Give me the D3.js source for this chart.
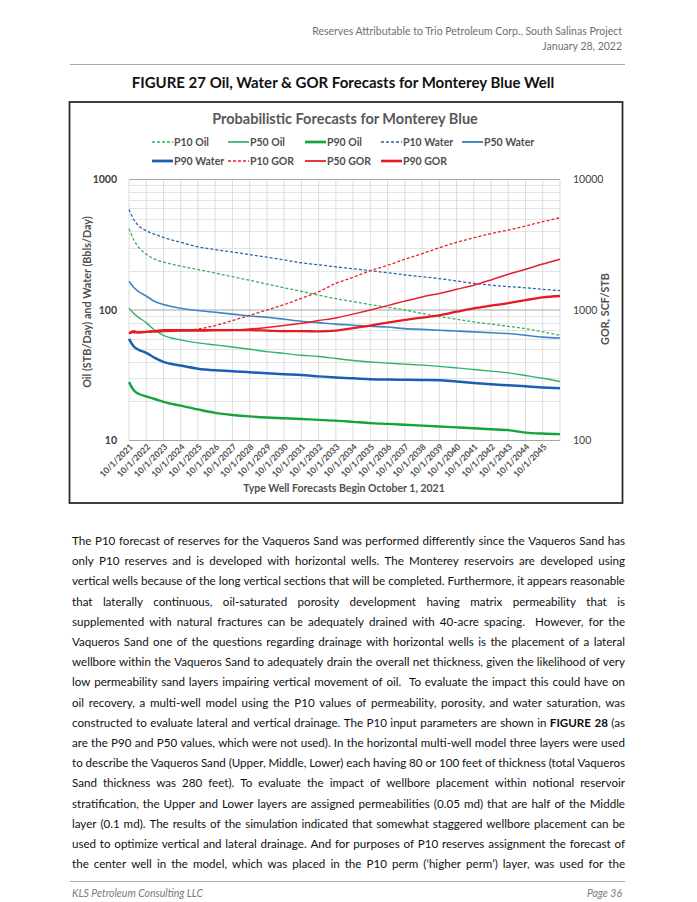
<!DOCTYPE html>
<html>
<head>
<meta charset="UTF-8">
<style>
body { margin: 0; background: #fff; }
svg text { font-family: Lato, "Open Sans", "Noto Sans", sans-serif; }
</style>
</head>
<body>
<script src="https://cdnjs.cloudflare.com/ajax/libs/d3/7.8.5/d3.min.js"></script>
<script>

// forecast dates (start of forecast 10/1/2021)
var dates = ["2021-10-01", "2022-01-01", "2022-04-01", "2022-10-01", "2023-04-01", "2023-10-01",
  "2024-10-01", "2025-10-01", "2026-10-01", "2027-10-01", "2028-10-01", "2029-10-01", "2030-10-01",
  "2031-10-01", "2032-10-01", "2033-10-01", "2034-10-01", "2035-10-01", "2036-10-01", "2037-10-01",
  "2038-10-01", "2039-10-01", "2040-10-01", "2041-10-01", "2042-10-01", "2043-10-01", "2044-10-01",
  "2045-10-01", "2046-10-01"];

// oil, STB/day
var p10Oil = [420, 350, 310, 268, 245, 233, 217, 204, 192, 180, 169, 158, 148, 139, 130, 122, 116, 110, 105, 100, 94, 89, 85, 81, 78, 75, 72, 68, 64];
var p50Oil = [103, 95, 89, 80, 70, 64, 59, 56, 54, 52, 50, 48, 46.5, 45, 44, 42.5, 41, 40, 39.2, 38.5, 37.8, 37, 36, 35, 34, 33, 31.5, 30, 28.3];
var p90Oil = [28, 24.5, 23, 21.8, 20.8, 19.8, 18.5, 17.3, 16.3, 15.7, 15.3, 15.0, 14.8, 14.6, 14.4, 14.2, 13.9, 13.6, 13.4, 13.2, 13.0, 12.8, 12.6, 12.4, 12.2, 12.0, 11.5, 11.3, 11.2];

// water, Bbls/day
var p10Water = [590, 500, 450, 405, 380, 360, 330, 305, 290, 278, 266, 254, 242, 230, 222, 214, 207, 200, 193, 186, 180, 174, 167, 160, 155, 151, 148, 144, 141];
var p50Water = [166, 150, 140, 128, 116, 110, 103, 99, 96, 93, 90, 88, 85, 82, 80, 78, 76.5, 75, 74, 72, 71, 70, 69, 68, 67, 66, 64, 62, 61];
var p90Water = [60, 53, 50, 47, 43, 40, 37.5, 35.5, 34.5, 34, 33.3, 32.7, 32.2, 31.8, 31, 30.4, 30, 29.5, 29.3, 29.2, 29.1, 29, 28.3, 27.6, 27, 26.5, 26, 25.5, 25.1];

// GOR, SCF/STB
var p10Gor = [670, 665, 680, 675, 680, 685, 695, 715, 760, 830, 910, 1000, 1100, 1230, 1380, 1600, 1780, 2000, 2200, 2450, 2700, 3000, 3300, 3580, 3850, 4100, 4400, 4750, 5100];
var p50Gor = [670, 672, 675, 680, 680, 685, 690, 690, 695, 700, 715, 735, 760, 790, 830, 870, 930, 1000, 1080, 1170, 1260, 1340, 1440, 1550, 1700, 1880, 2050, 2250, 2450];
var p90Gor = [660, 690, 670, 680, 690, 700, 700, 700, 700, 700, 700, 695, 690, 690, 685, 695, 725, 760, 800, 840, 875, 910, 970, 1030, 1080, 1130, 1190, 1250, 1280];

var leftTicks = [10, 100, 1000];
var rightTicks = [100, 1000, 10000];

var bodyLines = [
  "The P10 forecast of reserves for the Vaqueros Sand was performed differently since the Vaqueros Sand has",
  "only P10 reserves and is developed with horizontal wells. The Monterey reservoirs are developed using",
  "vertical wells because of the long vertical sections that will be completed. Furthermore, it appears reasonable",
  "that laterally continuous, oil-saturated porosity development having matrix permeability that is",
  "supplemented with natural fractures can be adequately drained with 40-acre spacing.  However, for the",
  "Vaqueros Sand one of the questions regarding drainage with horizontal wells is the placement of a lateral",
  "wellbore within the Vaqueros Sand to adequately drain the overall net thickness, given the likelihood of very",
  "low permeability sand layers impairing vertical movement of oil.  To evaluate the impact this could have on",
  "oil recovery, a multi-well model using the P10 values of permeability, porosity, and water saturation, was",
  "constructed to evaluate lateral and vertical drainage. The P10 input parameters are shown in *FIGURE *28 (as",
  "are the P90 and P50 values, which were not used). In the horizontal multi-well model three layers were used",
  "to describe the Vaqueros Sand (Upper, Middle, Lower) each having 80 or 100 feet of thickness (total Vaqueros",
  "Sand thickness was 280 feet). To evaluate the impact of wellbore placement within notional reservoir",
  "stratification, the Upper and Lower layers are assigned permeabilities (0.05 md) that are half of the Middle",
  "layer (0.1 md). The results of the simulation indicated that somewhat staggered wellbore placement can be",
  "used to optimize vertical and lateral drainage. And for purposes of P10 reserves assignment the forecast of",
  "the center well in the model, which was placed in the P10 perm (\u2018higher perm\u2019) layer, was used for the"
];

var parse = d3.timeParse("%Y-%m-%d");
var W = 697, H = 902;

var svg = d3.select("body").append("svg")
  .attr("width", W)
  .attr("height", H);

// ---- page header ----
svg.append("text").attr("x", 622).attr("y", 35).attr("text-anchor", "end")
  .attr("font-size", 10.5).attr("fill", "#6f6f6f")
  .text("Reserves Attributable to Trio Petroleum Corp., South Salinas Project");
svg.append("text").attr("x", 622).attr("y", 50).attr("text-anchor", "end")
  .attr("font-size", 10.5).attr("fill", "#6f6f6f")
  .text("January 28, 2022");
svg.append("line").attr("x1", 70).attr("x2", 625).attr("y1", 64.5).attr("y2", 64.5)
  .attr("stroke", "#a8a8a8").attr("stroke-width", 1);

svg.append("text").attr("x", 343).attr("y", 88).attr("text-anchor", "middle")
  .attr("font-size", 15).attr("font-weight", "bold").attr("fill", "#111")
  .text("FIGURE 27 Oil, Water & GOR Forecasts for Monterey Blue Well");

// ---- chart box ----
svg.append("rect").attr("x", 69.5).attr("y", 102).attr("width", 553).attr("height", 401)
  .attr("fill", "#fff").attr("stroke", "#2b2b2b").attr("stroke-width", 1.8);

var plot = {left: 129, right: 560, top: 179.5, bottom: 440.5};

var x = d3.scaleTime()
  .domain([parse("2021-10-01"), parse("2046-10-01")])
  .range([plot.left, plot.right]);
var y = d3.scaleLog().domain([10, 1000]).range([plot.bottom, plot.top]);
var yR = d3.scaleLog().domain([100, 10000]).range([plot.bottom, plot.top]);

var g = svg.append("g");

// minor horizontal gridlines
var minor = [];
[10, 100].forEach(function(b) { for (var k = 2; k <= 9; k++) minor.push(b * k); });
g.selectAll(".hmin").data(minor).enter().append("line")
  .attr("x1", plot.left).attr("x2", plot.right)
  .attr("y1", function(d) { return Math.round(y(d)) + 0.5; })
  .attr("y2", function(d) { return Math.round(y(d)) + 0.5; })
  .attr("stroke", "#e4e4e4").attr("stroke-width", 1);

// vertical gridlines, one per year
var years = d3.timeYear.range(new Date(2021, 0, 1), new Date(2047, 0, 1))
  .map(function(d) { return new Date(d.getFullYear(), 9, 1); });
g.selectAll(".vg").data(years).enter().append("line")
  .attr("x1", function(d) { return x(d); }).attr("x2", function(d) { return x(d); })
  .attr("y1", plot.top).attr("y2", plot.bottom)
  .attr("stroke", "#dcdcdc").attr("stroke-width", 1);

// major horizontal gridlines
g.selectAll(".hmaj").data(leftTicks).enter().append("line")
  .attr("x1", plot.left).attr("x2", plot.right)
  .attr("y1", function(d) { return y(d); }).attr("y2", function(d) { return y(d); })
  .attr("stroke", "#a6a6a6").attr("stroke-width", 1);

// axes
var yAxis = svg.append("g").attr("transform", "translate(" + (plot.left - 9) + ",0)")
  .call(d3.axisLeft(y).tickValues(leftTicks).tickSize(0).tickFormat(d3.format("d")));
yAxis.select(".domain").remove();
yAxis.selectAll("text").attr("font-size", 10.5).attr("font-weight", "bold")
  .attr("fill", "#404040").attr("font-family", "Lato, 'Open Sans', sans-serif");

var yRAxis = svg.append("g").attr("transform", "translate(" + (plot.right + 10) + ",0)")
  .call(d3.axisRight(yR).tickValues(rightTicks).tickSize(0).tickFormat(d3.format("d")));
yRAxis.select(".domain").remove();
yRAxis.selectAll("text").attr("font-size", 10.5).attr("fill", "#404040")
  .attr("font-family", "Lato, 'Open Sans', sans-serif");

var xAxis = svg.append("g").attr("transform", "translate(0," + plot.bottom + ")")
  .call(d3.axisBottom(x).tickValues(years.slice(0, 25)).tickSize(0)
    .tickFormat(d3.timeFormat("%-m/%-d/%Y")));
xAxis.select(".domain").remove();
xAxis.selectAll("text")
  .attr("font-size", 8.6).attr("font-weight", "bold").attr("fill", "#505050")
  .attr("font-family", "Lato, 'Open Sans', sans-serif")
  .attr("text-anchor", "end")
  .attr("dy", 0).attr("y", 0)
  .attr("transform", "translate(4,7) rotate(-45)");

// axis titles
svg.append("text").attr("transform", "translate(91,302) rotate(-90)").attr("text-anchor", "middle")
  .attr("font-size", 10.8).attr("font-weight", "bold").attr("fill", "#505050")
  .text("Oil (STB/Day) and Water (Bbls/Day)");
svg.append("text").attr("transform", "translate(609,309) rotate(-90)").attr("text-anchor", "middle")
  .attr("font-size", 10.8).attr("font-weight", "bold").attr("fill", "#505050")
  .text("GOR, SCF/STB");
svg.append("text").attr("x", 344).attr("y", 492).attr("text-anchor", "middle")
  .attr("font-size", 10.5).attr("font-weight", "bold").attr("fill", "#505050")
  .text("Type Well Forecasts Begin October 1, 2021");

// chart title
svg.append("text").attr("x", 345).attr("y", 124).attr("text-anchor", "middle")
  .attr("font-size", 14.5).attr("font-weight", "bold").attr("fill", "#595959")
  .text("Probabilistic Forecasts for Monterey Blue");

// ---- series ----
var series = [
  {name: "P10 Oil", vals: p10Oil, sc: y, color: "#3aae5c", w: 1.3, dash: "3,2"},
  {name: "P50 Oil", vals: p50Oil, sc: y, color: "#2fb26a", w: 1.4, dash: null},
  {name: "P90 Oil", vals: p90Oil, sc: y, color: "#16a33b", w: 2.4, dash: null},
  {name: "P10 Water", vals: p10Water, sc: y, color: "#2c62ad", w: 1.3, dash: "3,2"},
  {name: "P50 Water", vals: p50Water, sc: y, color: "#3c84c6", w: 1.6, dash: null},
  {name: "P90 Water", vals: p90Water, sc: y, color: "#1a5fb4", w: 2.5, dash: null},
  {name: "P10 GOR", vals: p10Gor, sc: yR, color: "#e4212b", w: 1.3, dash: "3,2"},
  {name: "P50 GOR", vals: p50Gor, sc: yR, color: "#e8202a", w: 1.5, dash: null},
  {name: "P90 GOR", vals: p90Gor, sc: yR, color: "#e31b23", w: 2.3, dash: null}
];

series.forEach(function(s) {
  var pts = dates.map(function(d, i) { return {t: parse(d), v: s.vals[i]}; });
  var line = d3.line().curve(d3.curveMonotoneX)
    .x(function(d) { return x(d.t); })
    .y(function(d) { return s.sc(d.v); });
  svg.append("path").datum(pts)
    .attr("d", line)
    .attr("fill", "none")
    .attr("stroke", s.color)
    .attr("stroke-width", s.w)
    .attr("stroke-dasharray", s.dash);
});

// legend
var legCols = [152, 228, 305, 381, 462];
var legRows = [142, 161];
series.forEach(function(s, i) {
  var row = i < 5 ? 0 : 1;
  var col = i < 5 ? i : i - 5;
  var lx = legCols[col], ly = legRows[row];
  svg.append("line").attr("x1", lx).attr("x2", lx + 21).attr("y1", ly).attr("y2", ly)
    .attr("stroke", s.color).attr("stroke-width", s.w + 0.3)
    .attr("stroke-dasharray", s.dash);
  svg.append("text").attr("x", lx + 22).attr("y", ly + 3.8)
    .attr("font-size", 10.5).attr("font-weight", "bold").attr("fill", "#505050")
    .text(s.name);
});

// ---- body paragraph (justified) ----
var bodyLeft = 72, bodyWidth = 553, bodyTop = 545, lineGap = 20.2;
var fs = 11.6;
var meas = svg.append("text").attr("font-size", fs).attr("x", -1000).attr("y", -1000);
function widthOf(word, bold) {
  meas.attr("font-weight", bold ? "bold" : "normal").text(word);
  return meas.node().getComputedTextLength();
}
bodyLines.forEach(function(ln, li) {
  var toks = ln.split(" ").map(function(t) {
    var bold = t.charAt(0) === "*";
    var w = bold ? t.slice(1) : t;
    return {w: w, bold: bold, width: w ? widthOf(w, bold) : 0};
  });
  var total = d3.sum(toks, function(t) { return t.width; });
  var gap = (bodyWidth - total) / (toks.length - 1);
  var t = svg.append("text").attr("y", bodyTop + li * lineGap)
    .attr("font-size", fs).attr("fill", "#111");
  var cx = bodyLeft;
  toks.forEach(function(tk) {
    if (tk.w) {
      t.append("tspan").attr("x", cx).attr("font-weight", tk.bold ? "bold" : "normal").text(tk.w);
    }
    cx += tk.width + gap;
  });
});
meas.remove();

// ---- footer ----
svg.append("line").attr("x1", 70).attr("x2", 625).attr("y1", 881.5).attr("y2", 881.5)
  .attr("stroke", "#a8a8a8").attr("stroke-width", 1);
svg.append("text").attr("x", 72).attr("y", 897).attr("font-size", 10.5).attr("font-style", "italic")
  .attr("fill", "#7a7a7a").text("KLS Petroleum Consulting LLC");
svg.append("text").attr("x", 622).attr("y", 897).attr("text-anchor", "end").attr("font-size", 10.5)
  .attr("font-style", "italic").attr("fill", "#7a7a7a").text("Page 36");

</script>
</body>
</html>
